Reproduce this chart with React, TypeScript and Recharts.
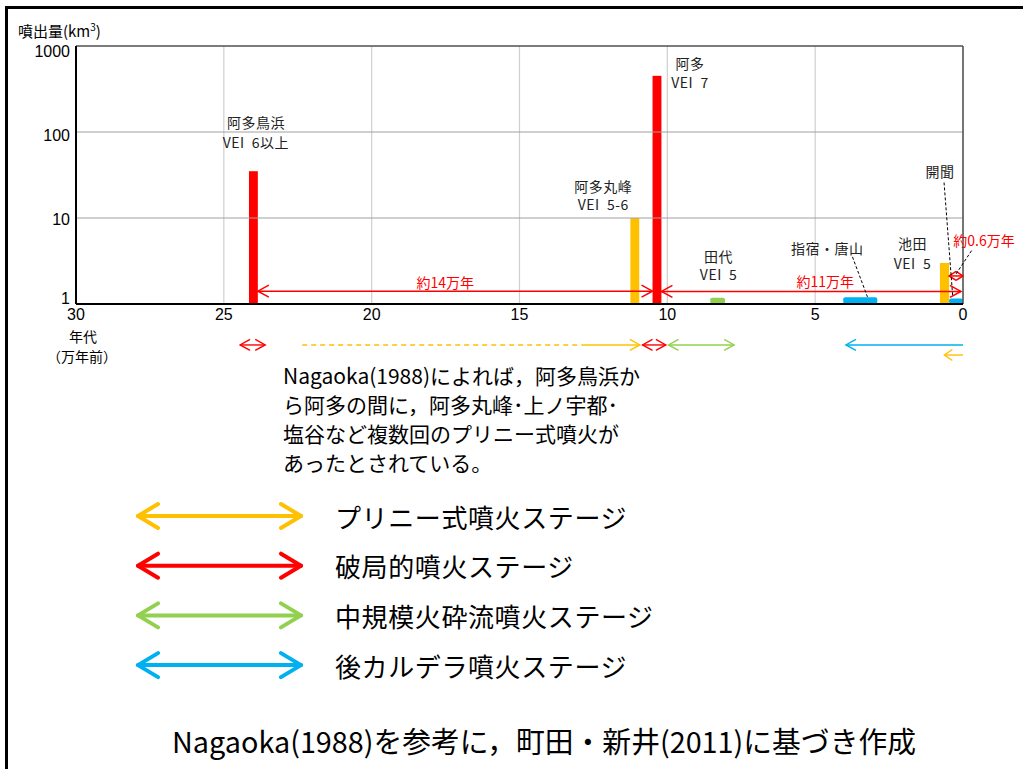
import React from 'react';
import {
  ComposedChart,
  XAxis,
  YAxis,
  CartesianGrid,
  ReferenceArea,
  ReferenceLine,
  ReferenceDot,
  Scatter,
} from 'recharts';

const JP = '"Noto Sans CJK JP", "Noto Sans", sans-serif';
const AR = '"Liberation Sans", Arial, sans-serif';

// ---- data ----
const eruptionNames = ['阿多鳥浜', '阿多丸峰', '阿多', '田代', '指宿・唐山', '池田', '開聞'];
const eruptionVEI = ['VEI\u00a0\u00a06以上', 'VEI\u00a0\u00a05-6', 'VEI\u00a0\u00a07', 'VEI\u00a0\u00a05', '', 'VEI\u00a0\u00a05', ''];
const eruptionOlder = [24.15, 11.25, 10.5, 8.55, 4.05, 0.78, 0.47]; // 万年前
const eruptionYounger = [23.85, 10.95, 10.2, 8.05, 2.9, 0.47, 0.0];
const eruptionVolume = [35, 10, 450, 1.18, 1.2, 3.0, 1.16]; // km3
const eruptionStage = [1, 0, 1, 2, 3, 0, 3];

const stageNames = ['プリニー式噴火ステージ', '破局的噴火ステージ', '中規模火砕流噴火ステージ', '後カルデラ噴火ステージ'];
const stageColors = ['#FFC000', '#FF0000', '#92D050', '#00B0F0'];

const intervalLabels = ['約14万年', '約11万年', '約0.6万年'];
const intervalFrom = [23.85, 10.2, 0.47];
const intervalTo = [10.5, 0.07, 0.0];

const periodStage = [1, 0, 0, 1, 2, 3, 0];
const periodFrom = [24.45, 22.35, 12.9, 10.84, 9.96, 0.0, 0.0];
const periodTo = [23.6, 12.9, 10.93, 10.05, 7.74, 3.96, 0.63];
const periodRow = [0, 0, 0, 0, 0, 0, 1];
const periodDashed = [false, true, false, false, false, false, false];
const periodHeads = ['both', 'none', 'end', 'both', 'both', 'end', 'end'];

const xTicks = [30, 25, 20, 15, 10, 5, 0];
const yTicks = [1, 10, 100, 1000];

const noteLines = [
  'Nagaoka(1988)によれば，阿多鳥浜か',
  'ら阿多の間に，阿多丸峰･上ノ宇都･',
  '塩谷など複数回のプリニー式噴火が',
  'あったとされている。',
];
const footer = 'Nagaoka(1988)を参考に，町田・新井(2011)に基づき作成';

// ---- layout (pixels / levels, not data) ----
const yTickShift: Record<number, number> = { 1: -6, 10: 1, 100: 3, 1000: 5 };
const intervalLevels = [1.41, 1.4, 2.12];
const intervalLabelOffsets = [
  { dx: -10, dy: -9.5 },
  { dx: 14, dy: -10.5 },
  { dx: 28, dy: -36 },
];
const rowLevels = [0.334, 0.255];
const labelLayout = [
  { dx: 2.5, dys: [-49, -29] },
  { dx: -31.5, dys: [-32, -14] },
  { dx: 33, dys: [-13, 6.6] },
  { dx: 1, dys: [-41.7, -23.7] },
  { dx: -33, dys: [-49] },
  { dx: -32, dys: [-19.7, 0] },
  { dx: -16, dys: [-127] },
];
const leaderLayout: Record<number, number[]> = {
  4: [-7.8, -40.3, 7.2, -0.3],
  6: [-12, -116, -3.3, -1.6],
};

const barRows = eruptionNames.map((n, i) => ({
  name: n,
  age: (eruptionOlder[i] + eruptionYounger[i]) / 2,
  vol: eruptionVolume[i],
}));

type Head = 'none' | 'start' | 'end' | 'both';

function arrowPath(
  x1: number, y1: number, x2: number, y2: number,
  heads: Head, hl: number, hh: number,
  color: string, sw: number, dash?: string, cap: 'butt' | 'round' = 'butt'
) {
  const len = Math.hypot(x2 - x1, y2 - y1) || 1;
  const ux = (x2 - x1) / len;
  const uy = (y2 - y1) / len;
  const head = (tx: number, ty: number, dir: number) => {
    const bx = tx - dir * ux * hl;
    const by = ty - dir * uy * hl;
    return `M${bx - uy * hh},${by + ux * hh} L${tx},${ty} L${bx + uy * hh},${by - ux * hh}`;
  };
  let d = '';
  if (heads === 'start' || heads === 'both') d += head(x1, y1, -1);
  if (heads === 'end' || heads === 'both') d += head(x2, y2, 1);
  return (
    <g>
      <line x1={x1} y1={y1} x2={x2} y2={y2} stroke={color} strokeWidth={sw} strokeDasharray={dash} strokeLinecap={cap} />
      {d && <path d={d} fill="none" stroke={color} strokeWidth={sw} strokeLinecap={cap} strokeLinejoin={cap === 'round' ? 'round' : 'miter'} />}
    </g>
  );
}

const arrowShape = (heads: Head, hl: number, hh: number, color: string, sw: number, dash?: string) =>
  (p: any) => arrowPath(p.x1, p.y1, p.x2, p.y2, heads, hl, hh, color, sw, dash);

const YTick = (p: any) => {
  const v = p.payload.value;
  return (
    <text
      x={p.x}
      y={p.y + (yTickShift[v] || 0)}
      textAnchor="end"
      dominantBaseline="central"
      fontSize={16}
      fill="#000"
      fontFamily={AR}
    >
      {v}
    </text>
  );
};

export default function App() {
  return (
    <div style={{ position: 'absolute', left: 0, top: 0, width: 1023, height: 769, background: '#fff' }}>
      <ComposedChart
        width={1023}
        height={769}
        data={barRows}
        margin={{ top: 46, right: 60, bottom: 435, left: 16 }}
      >
        <CartesianGrid horizontal={false} stroke="#cfcfcf" strokeWidth={1.2} />
        {[10, 100].map((v) => (
          <ReferenceLine key={'h' + v} y={v} stroke="#a0a0a0" strokeWidth={1} />
        ))}
        <ReferenceLine y={1000} stroke="#505050" strokeWidth={1.5} />
        <ReferenceLine x={0} stroke="#505050" strokeWidth={1.5} />
        <XAxis
          type="number"
          dataKey="age"
          domain={[0, 30]}
          reversed
          allowDataOverflow
          ticks={xTicks}
          interval={0}
          tickLine={false}
          tickSize={0}
          tickMargin={5}
          axisLine={{ stroke: '#000', strokeWidth: 2 }}
          tick={{ fontSize: 16, fill: '#000', fontFamily: AR }}
          height={30}
        />
        <YAxis
          type="number"
          dataKey="vol"
          scale="log"
          domain={[1, 1000]}
          allowDataOverflow
          ticks={yTicks}
          interval={0}
          tickLine={false}
          tickSize={4}
          tickMargin={2}
          axisLine={{ stroke: '#000', strokeWidth: 2 }}
          tick={<YTick />}
          width={60}
        />
        <Scatter dataKey="vol" isAnimationActive={false} shape={() => <g />} />

        {eruptionNames.map((n, i) => (
          <ReferenceArea
            key={'bar' + i}
            x1={eruptionOlder[i]}
            x2={eruptionYounger[i]}
            y1={1}
            y2={eruptionVolume[i]}
            ifOverflow="visible"
            shape={(p: any) => (
              <rect
                x={p.x}
                y={p.y}
                width={p.width}
                height={p.height}
                rx={eruptionStage[i] >= 2 ? 2 : 0}
                fill={stageColors[eruptionStage[i]]}
              />
            )}
          />
        ))}

        {intervalLabels.map((t, i) => (
          <ReferenceLine
            key={'iv' + i}
            segment={[
              { x: intervalFrom[i], y: intervalLevels[i] },
              { x: intervalTo[i], y: intervalLevels[i] },
            ]}
            ifOverflow="visible"
            shape={arrowShape('both', i === 2 ? 7 : 11, i === 2 ? 4.5 : 6, '#FF0000', 1.5)}
          />
        ))}
        {intervalLabels.map((t, i) => (
          <ReferenceDot
            key={'ivl' + i}
            x={(intervalFrom[i] + intervalTo[i]) / 2}
            y={intervalLevels[i]}
            ifOverflow="visible"
            shape={(p: any) => (
              <g>
                {i === 2 && (
                  <line x1={p.cx} y1={p.cy - 2} x2={p.cx + 16} y2={p.cy - 26} stroke="#000" strokeWidth={1} strokeDasharray="3 2" />
                )}
                <text
                  x={p.cx + intervalLabelOffsets[i].dx}
                  y={p.cy + intervalLabelOffsets[i].dy}
                  textAnchor="middle"
                  dominantBaseline="central"
                  fontSize={14}
                  fill="#FF0000"
                  fontFamily={JP}
                >
                  {t}
                </text>
              </g>
            )}
          />
        ))}

        {eruptionNames.map((n, i) => (
          <ReferenceDot
            key={'lbl' + i}
            x={(eruptionOlder[i] + eruptionYounger[i]) / 2}
            y={eruptionVolume[i]}
            ifOverflow="visible"
            shape={(p: any) => {
              const lines = eruptionVEI[i] ? [n, eruptionVEI[i]] : [n];
              const L = labelLayout[i];
              const ld = leaderLayout[i];
              return (
                <g>
                  {ld && (
                    <line
                      x1={p.cx + ld[0]}
                      y1={p.cy + ld[1]}
                      x2={p.cx + ld[2]}
                      y2={p.cy + ld[3]}
                      stroke="#000"
                      strokeWidth={1}
                      strokeDasharray="3 2"
                    />
                  )}
                  {lines.map((t, k) => (
                    <text
                      key={k}
                      x={p.cx + L.dx}
                      y={p.cy + L.dys[k]}
                      textAnchor="middle"
                      dominantBaseline="central"
                      fontSize={14}
                      letterSpacing={0.5}
                      fill="#222"
                      fontFamily={JP}
                    >
                      {t}
                    </text>
                  ))}
                </g>
              );
            }}
          />
        ))}

        {periodFrom.map((f, i) => (
          <ReferenceLine
            key={'pd' + i}
            segment={[
              { x: f, y: rowLevels[periodRow[i]] },
              { x: periodTo[i], y: rowLevels[periodRow[i]] },
            ]}
            ifOverflow="visible"
            shape={arrowShape(
              periodHeads[i] as Head,
              periodTo[i] - f < 1.2 && periodTo[i] - f > 0 ? 8 : 10,
              5.5,
              stageColors[periodStage[i]],
              1.4,
              periodDashed[i] ? '5 4' : undefined
            )}
          />
        ))}
      </ComposedChart>

      <svg
        width={1023}
        height={769}
        style={{ position: 'absolute', left: 0, top: 0, pointerEvents: 'none' }}
      >
        <line x1={6.5} y1={7.5} x2={1023} y2={7.5} stroke="#000" strokeWidth={3} />
        <line x1={6.5} y1={6} x2={6.5} y2={769} stroke="#000" strokeWidth={3} />

        <text x={18} y={37} fontSize={15} fill="#000" fontFamily={JP}>
          噴出量(km<tspan dy={-6} fontSize={10}>3</tspan>
          <tspan dy={6}>)</tspan>
        </text>
        <text x={83} y={335.5} fontSize={14} fill="#000" fontFamily={JP} textAnchor="middle" dominantBaseline="central">
          年代
        </text>
        <text x={82} y={356} fontSize={14} fill="#000" fontFamily={JP} textAnchor="middle" dominantBaseline="central">
          （万年前）
        </text>

        {noteLines.map((t, i) => (
          <text key={i} x={283} y={375 + i * 29} fontSize={21} fill="#000" fontFamily={JP} dominantBaseline="central">
            {t}
          </text>
        ))}

        {stageNames.map((t, i) => (
          <g key={'lg' + i}>
            {arrowPath(138, 516 + i * 49.7, 301, 516 + i * 49.7, 'both', 20, 12, stageColors[i], 4, undefined, 'round')}
            <text x={335} y={516 + i * 49.7} fontSize={26} letterSpacing={0.6} fill="#000" fontFamily={JP} dominantBaseline="central">
              {t}
            </text>
          </g>
        ))}

        <text
          x={172}
          y={740}
          fontSize={29}
          fill="#000"
          fontFamily={JP}
          dominantBaseline="central"
          textLength={744}
          lengthAdjust="spacingAndGlyphs"
        >
          {footer}
        </text>
      </svg>
    </div>
  );
}
